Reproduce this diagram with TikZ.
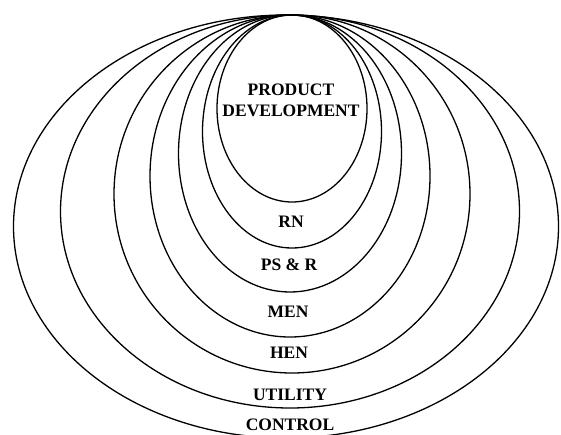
\documentclass[tikz,border=0pt]{standalone}
\usepackage{fontspec}
\setmainfont{Liberation Serif}
\begin{document}
\begin{tikzpicture}[x=1pt,y=-1pt,
  ring/.style={line width=1.3pt, draw=black},
  lab/.style={font=\fontsize{17.5}{19}\selectfont\bfseries, inner sep=0pt, align=center}]
\useasboundingbox (0,0) rectangle (561,434);
\clip (0,0) rectangle (561,434);
\draw[ring] (286,226.5) ellipse [x radius=272.5pt, y radius=211.5pt];
\draw[ring] (290,211.5) ellipse [x radius=229.5pt, y radius=196.5pt];
\draw[ring] (292,194) ellipse [x radius=178pt, y radius=179pt];
\draw[ring] (290,176) ellipse [x radius=140pt, y radius=161pt];
\draw[ring] (290,153.5) ellipse [x radius=111.5pt, y radius=138.5pt];
\draw[ring] (292,131.5) ellipse [x radius=89.5pt, y radius=116.5pt];
\draw[ring] (292,108.5) ellipse [x radius=75pt, y radius=93.5pt];
\node[lab] (pd) at (291,100) {PRODUCT\\[2pt]DEVELOPMENT};
\node[lab] (rn) at (291,222) {RN};
\node[lab] (psr) at (289,265) {PS \& R};
\node[lab] (men) at (288,312) {MEN};
\node[lab] (hen) at (289,353) {HEN};
\node[lab] (util) at (290,395) {UTILITY};
\node[lab] (ctrl) at (290,425) {CONTROL};
\end{tikzpicture}
\end{document}
